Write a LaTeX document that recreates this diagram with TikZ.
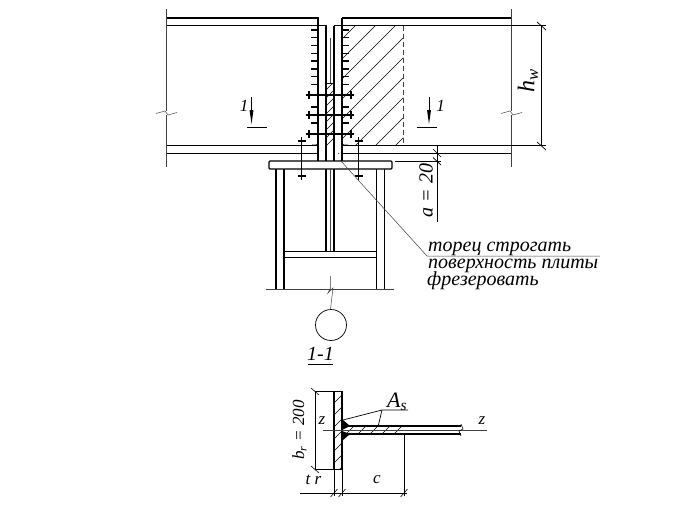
\documentclass[tikz,border=0pt]{standalone}
\usepackage{fontspec}
\setmainfont{Liberation Serif}
\begin{document}
\begin{tikzpicture}[x=1pt,y=-1pt,contour/.style={line width=1.3pt},
      weak/.style={line width=0.5pt,black!75},
      hatchline/.style={line width=0.45pt},
      tickline/.style={line width=1.2pt},
      note/.style={font=\itshape\fontsize{20}{20}\selectfont,inner sep=0pt},
      small/.style={font=\itshape\fontsize{17}{17}\selectfont,inner sep=0pt}]
    \useasboundingbox (0,0) rectangle (691,506);

    % beams
    \draw[contour] (166,18) -- (318,18) -- (318,160.7);
    \draw[contour] (166,25.7) -- (326,25.7) -- (326,160.7);
    \draw[contour] (166,145.3) -- (318,145.3);
    \draw[contour] (166,153.3) -- (318,153.3);
    \draw[contour] (342,18) -- (511,18);
    \draw[contour] (334,25.7) -- (511,25.7);
    \draw[contour] (342,145.3) -- (511,145.3);
    \draw[contour] (342,153.3) -- (511,153.3);
    \draw[contour] (334,160.7) -- (334,25.7);
    \draw[contour] (342,160.7) -- (342,18);
    \foreach \x in {166,511}{
      \draw[weak] (\x,9) -- (\x,111);
      \draw[weak] (\x-10,113.5) -- (\x-1,111) -- (\x+2,115) -- (\x+11,112.5);
      \draw[weak] (\x,115) -- (\x,167);
    }
    \draw[weak] (330,38) -- (330,83);
    \draw[contour,rounded corners=2pt] (318,139) -- (318,145.3) -- (312,145.3);
    \draw[contour,rounded corners=2pt] (342,139) -- (342,145.3) -- (348,145.3);
    \fill (338.7,153.3) circle (0.5);

    % hatching
    \begin{scope}
      \clip (342,25.7) rectangle (403,145.3);
      \foreach \off in {381,401,...,541}
        \draw[hatchline] (\off-160,160) -- (\off,0);
    \end{scope}
    \draw[weak,dashed,dash pattern=on 5pt off 3pt] (403,25.7) -- (403,145.3);
    \draw[hatchline] (326,83) -- (334,83);
    \begin{scope}
      \clip (326,83) rectangle (334,145.3);
      \foreach \off in {400,408,...,488}
        \draw[hatchline] (\off-160,160) -- (\off,0);
    \end{scope}

    % weld marks
    \foreach \y in {30,37.7,45.3,53.3,61,69,76.7,84.3,107,123}{
      \draw[tickline] (311,\y) -- (318,\y);
      \draw[tickline] (342,\y) -- (349,\y);
    }

    % bolts
    \foreach \y in {95,115,134}{
      \draw[line width=1.6pt] (306,\y) -- (354,\y);
      \draw[tickline] (309,\y-4) -- (309,\y+4);
      \draw[tickline] (351,\y-4) -- (351,\y+4);
    }
    \foreach \x in {301.5,358.5}{
      \draw[tickline] (\x,137) -- (\x,180);
      \draw[tickline] (\x-4,141) -- (\x+4,141);
      \draw[tickline] (\x-4,176) -- (\x+4,176);
    }

    % plate and column
    \draw[contour,rounded corners=1pt] (269,161) rectangle (392,169);
    \draw[contour] (276,169) -- (276,289);
    \draw[contour] (284,169) -- (284,289);
    \draw[contour] (376.7,169) -- (376.7,289);
    \draw[contour] (384.5,169) -- (384.5,289);
    \draw[contour] (326,169) -- (326,251.7);
    \draw[contour] (334,169) -- (334,251.7);
    \draw[weak] (330,169) -- (330,251.7);
    \draw[contour] (284,251.7) -- (376.7,251.7);
    \draw[contour] (284,257.7) -- (376.7,257.7);
    \draw[weak] (266,289) -- (394,289);
    \draw[weak] (330.5,276) -- (330.5,288) -- (328,293) -- (333,288) -- (330.5,309);
    \node[circle,draw,line width=0.7pt,minimum size=31pt,inner sep=0pt] (pipe) at (331,325) {};

    % section marks
    \draw[line width=0.5pt] (251.5,97) -- (251.5,110);
    \fill (249.5,110) -- (253.5,110) -- (251.5,124) -- cycle;
    \draw[line width=1pt] (247,127) -- (267,127);
    \node[small] (markleft) at (244,105.5) {1};
    \draw[line width=0.5pt] (429,97) -- (429,110);
    \fill (427,110) -- (431,110) -- (429,124) -- cycle;
    \draw[line width=1pt] (417,127) -- (437,127);
    \node[small] (markright) at (440.5,105.5) {1};

    % dimension h_w
    \draw[line width=0.8pt] (511,25.7) -- (546,25.7);
    \draw[line width=0.8pt] (511,145.5) -- (546,145.5);
    \draw[line width=0.8pt] (541.7,25.7) -- (541.7,145.5);
    \draw[line width=0.7pt] (537,22) -- (546,30);
    \draw[line width=0.7pt] (537,142) -- (546,150);
    \node[rotate=90,inner sep=0pt,font=\itshape\fontsize{24}{24}\selectfont] (hw) at (528,81) {h\textsubscript{w}};

    % dimension a
    \draw[line width=0.8pt] (437.5,145.3) -- (437.5,222);
    \draw[line width=0.8pt] (395,161) -- (441,161);
    \draw[line width=0.7pt] (433,149) -- (441,157);
    \draw[line width=0.7pt] (433,157.5) -- (441,165);
    \node[note,rotate=90] (adim) at (426,190.5) {a = 20};

    % leader with notes
    \draw[weak] (340,160) -- (427,256) -- (600,256);
    \node[note,anchor=base west] (planed) at (428,251) {торец строгать};
    \node[note,anchor=base west] (surface) at (428,268) {поверхность плиты};
    \node[note,anchor=base west] (milled) at (427,285) {фрезеровать};

    % section title
    \node[note,anchor=base] (title) at (320.5,360) {1-1};
    \draw[line width=0.8pt] (308,364) -- (333,364);

    % section 1-1
    \draw[contour] (334,391.7) rectangle (342,469.3);
    \draw[contour] (342,426) -- (461,426);
    \draw[contour] (342,434) -- (461,434);
    \begin{scope}
      \clip (334,391.7) rectangle (342,469.3);
      \foreach \off in {425,437,...,515}
        \draw[hatchline] (\off-200,500) -- (\off,300);
    \end{scope}
    \begin{scope}
      \clip (342,426) rectangle (404,434);
      \foreach \off in {368,380,...,440}
        \draw[hatchline] (\off-100,500) -- (\off,400);
    \end{scope}
    \fill (342,419) -- (350,426) -- (342,430) -- cycle;
    \fill (342,441) -- (350,434) -- (342,431) -- cycle;
    \draw[weak] (323,430) -- (487,430);
    \draw[line width=0.6pt] (461,424) -- (463,429) -- (459,431) -- (461,436);

    % dimensions of the section
    \draw[line width=0.7pt] (315,391.7) -- (334,391.7);
    \draw[line width=0.7pt] (315,469.3) -- (334,469.3);
    \draw[line width=0.8pt] (315,391.7) -- (315,469.3);
    \draw[line width=0.6pt] (311,388) -- (319,395);
    \draw[line width=0.6pt] (311,466) -- (319,473);
    \node[rotate=90,inner sep=0pt,font=\itshape\fontsize{17}{17}\selectfont] (brdim) at (299.5,430) {b\textsubscript{r} = 200};
    \node[small] (zleft) at (322,421) {z};
    \node[small] (zright) at (482,421) {z};
    \draw[line width=0.7pt] (334,469.3) -- (334,496);
    \draw[line width=0.7pt] (342,469.3) -- (342,496);
    \draw[line width=0.7pt] (404,434) -- (404,496);
    \draw[line width=0.8pt] (300,493) -- (407,493);
    \foreach \x in {334,342,404}
      \draw[line width=0.6pt] (\x-3.5,497) -- (\x+3.5,489);
    \node[small] (tlabel) at (313.5,480) {t r};
    \node[small] (clabel) at (377,480) {c};
    \draw[line width=0.7pt] (343,420) -- (382,410) -- (408,410);
    \draw[line width=0.7pt] (382,410) -- (378,427);
    \node[inner sep=0pt,anchor=base west,font=\itshape\fontsize{22}{22}\selectfont] (aslabel) at (387,407) {A\textsubscript{s}};
\end{tikzpicture}
\end{document}
